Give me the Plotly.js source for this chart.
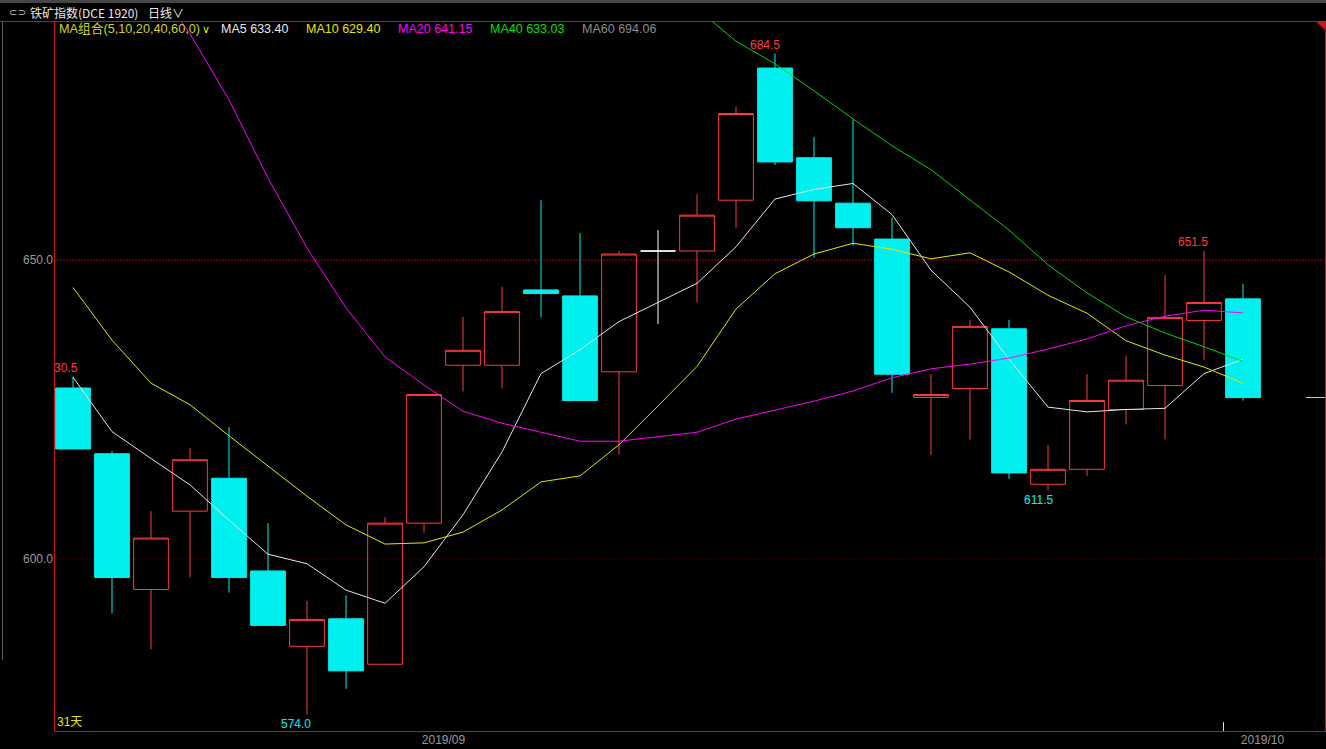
<!DOCTYPE html>
<html><head><meta charset="utf-8">
<script src="https://cdn.plot.ly/plotly-3.0.1.min.js"></script>
<style>html,body{margin:0;padding:0;background:#000;overflow:hidden}#chart{width:1326px;height:749px}</style>
</head><body><div id="chart"></div>
<script>
// ---- data ----
const dates = ['2019-08-19','2019-08-20','2019-08-21','2019-08-22','2019-08-23','2019-08-26','2019-08-27','2019-08-28','2019-08-29','2019-08-30',
  '2019-09-02','2019-09-03','2019-09-04','2019-09-05','2019-09-06','2019-09-09','2019-09-10','2019-09-11','2019-09-12','2019-09-16',
  '2019-09-17','2019-09-18','2019-09-19','2019-09-20','2019-09-23','2019-09-24','2019-09-25','2019-09-26','2019-09-27','2019-09-30','2019-10-08'];
const openP  = [628.6,617.6,594.9,608.0,613.5,598.0,585.4,590.0,582.4,606.0,632.4,632.4,645.0,644.0,631.3,651.5,651.5,660.0,682.1,667.1,659.5,653.5,627.0,628.5,638.5,612.5,615.0,625.0,629.0,639.9,643.5];
const highP  = [630.5,618.1,608.0,618.6,622.1,606.0,593.0,593.9,607.0,627.6,640.5,645.5,660.0,654.5,651.5,655.0,661.0,675.6,684.5,670.6,673.5,657.1,630.9,640.0,640.0,619.1,630.9,634.0,647.5,651.5,646.0];
const lowP   = [618.4,590.9,584.9,596.9,594.4,588.9,574.0,578.3,582.4,604.4,628.0,628.5,640.4,626.5,617.5,639.3,642.9,655.4,665.9,650.4,652.4,627.8,617.4,620.0,613.4,611.5,613.9,622.5,620.0,633.3,626.5];
const closeP = [618.4,596.9,603.5,616.6,596.9,588.9,589.9,581.3,606.0,627.5,634.9,641.4,644.4,626.5,651.0,651.5,657.5,674.5,666.4,659.9,655.4,630.9,627.5,638.9,614.4,615.0,626.5,629.9,640.4,642.9,627.0];
const ma5  = [630.4,621.3,616.8,612.4,606.5,600.8,599.2,594.8,592.6,598.7,607.4,617.9,631.0,635.0,639.7,642.9,646.1,652.2,660.2,661.8,662.8,657.6,648.3,642.1,633.4,625.4,624.6,625.0,625.2,631.0,633.4];
const ma10 = [645.4,636.6,629.4,625.8,620.6,615.6,610.5,605.7,602.5,602.7,604.5,608.2,612.9,613.9,619.1,625.6,632.2,641.8,647.7,651.0,652.8,651.8,650.2,651.2,648.0,644.1,641.1,636.5,634.1,632.1,629.4];
const ma20 = [null,null,697.0,687.8,676.8,663.7,652.0,642.0,633.8,629.1,624.7,622.7,621.2,619.7,619.7,620.4,621.2,623.4,624.9,626.4,628.1,630.3,631.8,632.6,633.6,635.1,636.8,639.0,640.6,641.6,641.15];
const ma40 = [null,null,null,null,null,null,null,null,null,null,null,null,null,null,null,null,692.0,686.6,682.8,678.3,673.6,669.1,665.1,660.0,655.0,649.2,644.5,640.5,637.8,635.5,633.03];
const ma60Last = 694.06;
const yTickVals = [600, 650];
const monthLabels = ['2019/09', '2019/10'];
const instrument = '铁矿指数';
const code = '(DCE 1920)';
const period = '日线';
const dayCountLabel = '31天';

// ---- helpers ----
const W = 1326, H = 749, L = 54, R = 1, T = 21, B = 18;
const pw = W - L - R, ph = H - T - B;
const px = v => (v - L) / pw;          // pixel x -> paper
const py = v => (H - B - v) / ph;      // pixel y -> paper
const idx = dates.map((d, i) => i);

const RED = '#ff3c3c', CYAN = '#00f0f0';
const FONT = 'Liberation Sans, Noto Sans CJK SC, sans-serif';

function subset(cond) {
  const s = {x: [], open: [], high: [], low: [], close: [], text: []};
  idx.forEach(i => { if (cond(i)) { s.x.push(i); s.open.push(openP[i]); s.high.push(highP[i]); s.low.push(lowP[i]); s.close.push(closeP[i]); s.text.push(dates[i]); } });
  return s;
}
function candle(s, upCol, upFill, dnCol, dnFill) {
  return Object.assign({type: 'candlestick', whiskerwidth: 0, hoverinfo: 'skip', showlegend: false,
    increasing: {line: {color: upCol, width: 1}, fillcolor: upFill},
    decreasing: {line: {color: dnCol, width: 1}, fillcolor: dnFill}}, s);
}
const up = subset(i => closeP[i] > openP[i]);
const dn = subset(i => closeP[i] < openP[i]);
const flat = subset(i => closeP[i] === openP[i]);

function maLine(y, color) {
  return {type: 'scatter', mode: 'lines', x: idx, y: y, line: {color: color, width: 1}, hoverinfo: 'skip', showlegend: false, connectgaps: false};
}

const traces = [
  candle(up, RED, 'rgba(0,0,0,0)', RED, 'rgba(0,0,0,0)'),
  candle(dn, CYAN, CYAN, CYAN, CYAN),
  candle(flat, '#ffffff', '#ffffff', '#ffffff', '#ffffff'),
  maLine(ma5, '#e6e6e6'),
  maLine(ma10, '#e6e600'),
  maLine(ma20, '#ff00ff'),
  maLine(ma40, '#00d400')
];

// ---- extreme labels ----
const hiI = highP.indexOf(Math.max(...highP));
const loI = lowP.indexOf(Math.min(...lowP));
const lblFont = c => ({family: FONT, size: 12, color: c});
const annotations = [
  {x: hiI, y: highP[hiI], text: highP[hiI].toFixed(1), showarrow: false, yanchor: 'bottom', xshift: -10, yshift: 0, font: lblFont(RED)},
  {x: 29, y: highP[29], text: highP[29].toFixed(1), showarrow: false, yanchor: 'bottom', xshift: -11, yshift: 0, font: lblFont(RED)},
  {x: 25, y: lowP[25], text: lowP[25].toFixed(1), showarrow: false, yanchor: 'top', xshift: -10, yshift: -1, font: lblFont(CYAN)},
  {x: loI, y: lowP[loI], text: lowP[loI].toFixed(1), showarrow: false, yanchor: 'top', xshift: -11, yshift: -1, font: lblFont(CYAN)},
  {xref: 'paper', x: 0, y: highP[0], text: highP[0].toFixed(1).slice(1), showarrow: false, xanchor: 'left', yanchor: 'bottom', xshift: -2, font: lblFont(RED)},
  {xref: 'paper', yref: 'paper', x: px(55), y: py(722), text: dayCountLabel, showarrow: false, xanchor: 'left', yanchor: 'middle', font: {family: FONT, size: 12, color: '#e6e600'}},
  // header
  {xref: 'paper', yref: 'paper', x: px(7), y: py(12), text: '⊂⊃', showarrow: false, xanchor: 'left', yanchor: 'middle', font: {family: 'DejaVu Sans', size: 10, color: '#bbbbbb'}},
  {xref: 'paper', yref: 'paper', x: px(28), y: py(12), text: instrument + code, showarrow: false, xanchor: 'left', yanchor: 'middle', font: {family: 'Noto Sans CJK SC', size: 12, color: '#e8e8e8'}},
  {xref: 'paper', yref: 'paper', x: px(146), y: py(12), text: period + '∨', showarrow: false, xanchor: 'left', yanchor: 'middle', font: {family: 'Noto Sans CJK SC', size: 12, color: '#e8e8e8'}},
  // MA legend row
  {xref: 'paper', yref: 'paper', x: px(57), y: py(29), text: 'MA组合(5,10,20,40,60,0)', showarrow: false, xanchor: 'left', yanchor: 'middle', font: {family: FONT, size: 12.7, color: '#d2d21e'}},
  {xref: 'paper', yref: 'paper', x: px(200), y: py(30), text: '∨', showarrow: false, xanchor: 'left', yanchor: 'middle', font: {family: 'DejaVu Sans', size: 11, color: '#e6e600'}},
  {xref: 'paper', yref: 'paper', x: px(219), y: py(29), text: 'MA5 ' + ma5[30].toFixed(2), showarrow: false, xanchor: 'left', yanchor: 'middle', font: {family: FONT, size: 12.5, color: '#e8e8e8'}},
  {xref: 'paper', yref: 'paper', x: px(304), y: py(29), text: 'MA10 ' + ma10[30].toFixed(2), showarrow: false, xanchor: 'left', yanchor: 'middle', font: {family: FONT, size: 12.5, color: '#e6e600'}},
  {xref: 'paper', yref: 'paper', x: px(396), y: py(29), text: 'MA20 ' + ma20[30].toFixed(2), showarrow: false, xanchor: 'left', yanchor: 'middle', font: {family: FONT, size: 12.5, color: '#ff00ff'}},
  {xref: 'paper', yref: 'paper', x: px(488), y: py(29), text: 'MA40 ' + ma40[30].toFixed(2), showarrow: false, xanchor: 'left', yanchor: 'middle', font: {family: FONT, size: 12.5, color: '#00e000'}},
  {xref: 'paper', yref: 'paper', x: px(580), y: py(29), text: 'MA60 ' + ma60Last.toFixed(2), showarrow: false, xanchor: 'left', yanchor: 'middle', font: {family: FONT, size: 12.5, color: '#8c8c8c'}}
];

const FRAME = '#c81414';
const shapes = [
  // header strip
  {type: 'rect', xref: 'paper', yref: 'paper', x0: px(0), x1: px(W), y0: py(0), y1: py(3), fillcolor: '#464646', line: {width: 0}, layer: 'below'},
  // price level lines
  {type: 'line', xref: 'paper', yref: 'y', x0: 0, x1: 1, y0: yTickVals[1], y1: yTickVals[1], line: {color: '#b00000', width: 1, dash: '2px,1px'}, layer: 'below'},
  {type: 'line', xref: 'paper', yref: 'y', x0: 0, x1: 1, y0: yTickVals[0], y1: yTickVals[0], line: {color: '#6e0000', width: 1, dash: '1px,2px'}, layer: 'below'},
  // frame
  {type: 'line', xref: 'paper', yref: 'paper', x0: px(0), x1: px(1326), y0: py(21.5), y1: py(21.5), line: {color: FRAME, width: 1}},
  {type: 'line', xref: 'paper', yref: 'paper', x0: px(54.5), x1: px(54.5), y0: py(21.5), y1: py(731.5), line: {color: FRAME, width: 1}},
  {type: 'line', xref: 'paper', yref: 'paper', x0: px(54.5), x1: px(1326), y0: py(731.5), y1: py(731.5), line: {color: FRAME, width: 1}},
  {type: 'line', xref: 'paper', yref: 'paper', x0: px(1325.5), x1: px(1325.5), y0: py(21.5), y1: py(731.5), line: {color: FRAME, width: 1}},
  {type: 'path', xref: 'paper', yref: 'paper', path: `M ${px(1316)},${py(21.5)} L ${px(1326)},${py(21.5)} L ${px(1326)},${py(31)} Z`, fillcolor: FRAME, line: {width: 0}},
  // left gray side line
  {type: 'line', xref: 'paper', yref: 'paper', x0: px(2.5), x1: px(2.5), y0: py(22), y1: py(660), line: {color: '#5a5a5a', width: 1}},
  // month boundary tick
  {type: 'line', xref: 'x', yref: 'paper', x0: 29.5, x1: 29.5, y0: py(722), y1: py(731), line: {color: '#dddddd', width: 1}},
  // last close marker
  {type: 'line', xref: 'paper', yref: 'y', x0: px(1306), x1: px(1325), y0: closeP[30], y1: closeP[30], line: {color: '#e6e600', width: 1}}
];

const layout = {
  width: W, height: H,
  margin: {l: L, r: R, t: T, b: B, pad: 0},
  paper_bgcolor: '#000000', plot_bgcolor: '#000000',
  showlegend: false, hovermode: false, dragmode: false,
  boxgap: 0.11, boxgroupgap: 0, boxmode: 'overlay',
  xaxis: {type: 'linear', range: [(L - 73) / 39, (W - R - 73) / 39], showgrid: false, zeroline: false, showline: false,
    rangeslider: {visible: false}, fixedrange: true,
    tickmode: 'array', tickvals: [9.5, 30.5], ticktext: monthLabels, ticks: '', ticklen: 0,
    tickfont: {family: 'Liberation Sans Narrow, Liberation Sans, sans-serif', size: 12, color: '#9a9a9a'}},
  yaxis: {range: [650 - (731 - 260) / 5.98, 650 + (260 - 21) / 5.98], showgrid: false, zeroline: false, showline: false, fixedrange: true,
    tickmode: 'array', tickvals: yTickVals, ticktext: yTickVals.map(v => v.toFixed(1)), ticks: '', ticklen: 0,
    tickfont: {family: FONT, size: 12, color: '#9a9a9a'}},
  shapes: shapes,
  annotations: annotations
};

Plotly.newPlot('chart', traces, layout, {displayModeBar: false, staticPlot: true});
</script>
</body></html>
